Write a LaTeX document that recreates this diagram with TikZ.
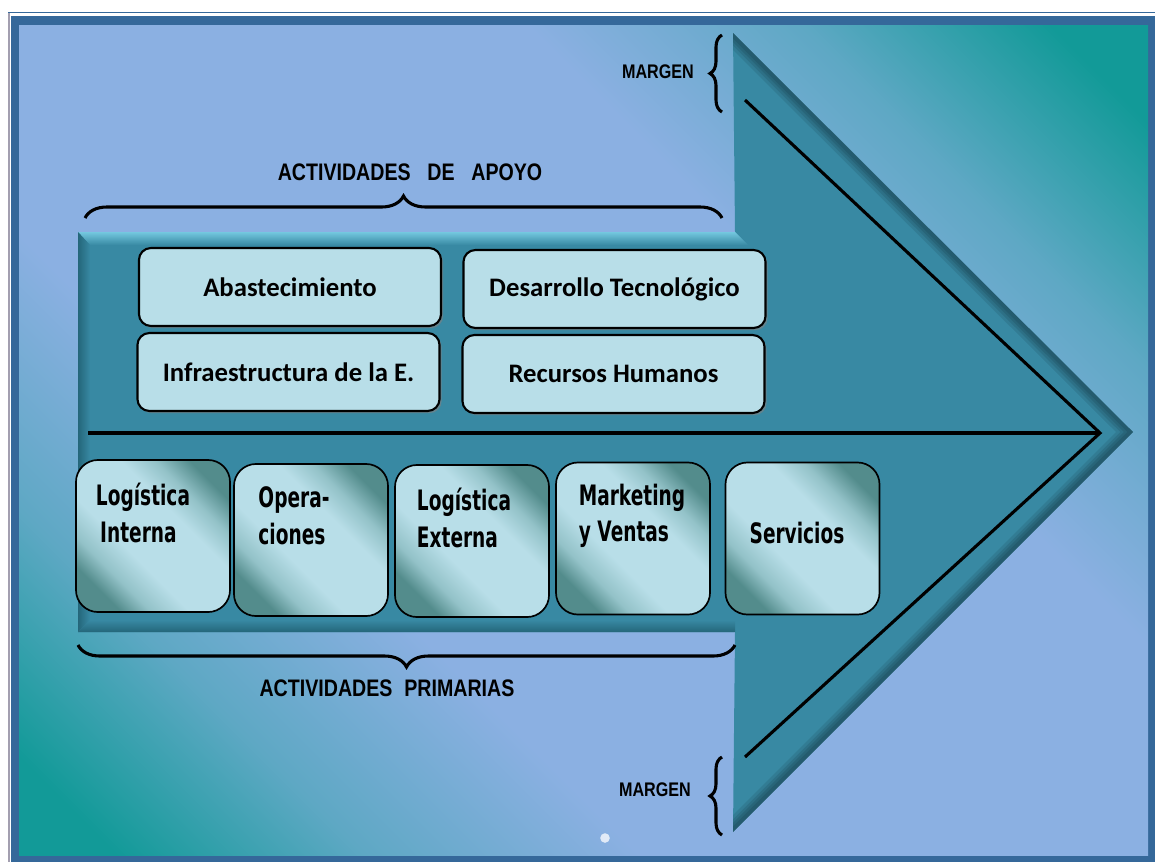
\documentclass[tikz,border=0pt]{standalone}
\usepackage{fontspec}
\setmainfont{Carlito}
\newfontfamily\narrowfont[FakeStretch=0.82]{Liberation Sans}
\newfontfamily\agencyfont[FakeStretch=0.66]{DejaVu Sans}
\usetikzlibrary{calc}
\usetikzlibrary{shapes,shadows,shadings,decorations.pathreplacing}
\definecolor{bglight}{HTML}{8BB0E2}
\definecolor{bgmid}{HTML}{5EA8C4}
\definecolor{bgteal}{HTML}{129A98}
\definecolor{framebl}{HTML}{35689A}
\definecolor{frameline}{HTML}{A39FB0}
\definecolor{arrowfill}{HTML}{3889A3}
\definecolor{arrowtop}{HTML}{74C8DF}
\definecolor{arrowdark}{HTML}{24667A}
\definecolor{boxlight}{HTML}{B8DEE8}
\definecolor{boxmid}{HTML}{93C2C8}
\definecolor{boxdark}{HTML}{538C8C}
\pgfdeclarehorizontalshading{backdrop}{100bp}{color(0bp)=(bgteal); color(18bp)=(bgteal); color(27bp)=(bgmid); color(37bp)=(bglight); color(63bp)=(bglight); color(73bp)=(bgmid); color(82bp)=(bgteal); color(100bp)=(bgteal)}
\pgfdeclarehorizontalshading{glassy}{100bp}{color(0bp)=(boxdark); color(25bp)=(boxdark); color(32bp)=(boxmid); color(41bp)=(boxlight); color(60bp)=(boxlight); color(68bp)=(boxmid); color(76bp)=(boxdark); color(100bp)=(boxdark)}
\tikzset{
  supportbox/.style={draw=black, line width=1.5pt, rounded corners=0.3cm, fill=boxlight,
    minimum width=7.55cm, minimum height=1.95cm,
    drop shadow={shadow xshift=1.5pt, shadow yshift=-1.5pt, opacity=0.6},
    font=\bfseries\fontsize{19}{22}\selectfont},
  primarybox/.style={draw=black, line width=1.2pt, rounded corners=0.55cm, shade, shading=glassy,
    shading angle=45, minimum width=3.85cm, minimum height=3.8cm},
  primarytext/.style={font=\agencyfont\bfseries\fontsize{20}{26}\selectfont, align=left},
  headtext/.style={font=\narrowfont\bfseries\fontsize{17}{20}\selectfont},
  margintext/.style={font=\narrowfont\bfseries\fontsize{14}{16}\selectfont},
  bigbrace/.style={decorate, decoration={brace, amplitude=0.55cm}, line width=2.2pt},
  smallbrace/.style={decorate, decoration={brace, amplitude=0.3cm}, line width=2.2pt},
  thinline/.style={line width=2.2pt},
  bevel/.style={black, line width=#1, opacity=0.09}
}
\newcommand{\supbox}[4]{\node[supportbox] (#1) at (#2,#3) {#4};}
\newcommand{\primbox}[6]{\node[primarybox] (#1) at (#2,#3) {}; \node[primarytext] (#1-t) at (#4,#5) {#6};}
\newcommand{\arrowpath}{(78,232) -- (735,232) -- (733,33) -- (1133,432) -- (733,832) -- (735,632) -- (78,632) -- cycle}

\begin{document}
\begin{tikzpicture}[x=0.025cm, y=-0.025cm]
        \useasboundingbox (0,0) rectangle (1155,862);
        % frame
        \fill[white] (0,0) rectangle (1155,862);
        \draw[framebl, line width=0.8pt] (8,12.5) -- (1155,12.5);
        \draw[frameline, line width=1.6pt] (9,13) -- (9,862);
        \fill[framebl] (11,16) rectangle (1155,862);
        \shade[shading=backdrop, shading angle=45] (19,25) rectangle (1148,855);
        \fill[white, opacity=0.75] (605,838) circle (0.12cm);
        % arrow
        \fill[arrowfill] \arrowpath;
        \begin{scope}
            \clip \arrowpath;
            \shade[top color=arrowtop, bottom color=arrowfill] (78,232) -- (735,232) -- (748,245) -- (90,245) -- cycle;
            \shade[left color=arrowdark, right color=arrowfill] (78,232) -- (90,245) -- (90,620) -- (78,632) -- cycle;
            \shade[top color=arrowfill, bottom color=arrowdark] (78,632) -- (90,620) -- (735,620) -- (735,632) -- cycle;
            \foreach \w in {0.6cm,0.45cm,0.32cm,0.2cm}
                \draw[bevel=\w] (733,33) -- (1133,432) -- (733,832);
        \end{scope}
        % lines
        \coordinate (mid) at (88,433);
        \coordinate (tip) at (1100,433);
        \coordinate (uend) at (745,100);
        \coordinate (lend) at (745,757);
        \draw[thinline] (mid) -- (tip);
        \draw[thinline] (uend) -- (tip) -- (lend);
        % support activities
        \supbox{abas}{290}{287}{Abastecimiento}
        \supbox{desa}{614.5}{289}{Desarrollo Tecnológico}
        \supbox{infr}{288.5}{372}{Infraestructura de la E.}
        \supbox{recu}{613.5}{374}{Recursos Humanos}
        % primary activities
        \primbox{li}{153}{536}{143}{513}{Logística\\\hspace{3pt}Interna}
        \primbox{op}{311}{540}{294}{516}{Opera-\\ciones}
        \primbox{le}{472}{541}{464}{518}{Logística\\Externa}
        \primbox{mv}{633}{538.5}{632}{516}{Marketing\\y Ventas}
        \primbox{se}{802.5}{538.5}{797}{533}{Servicios}
        % braces
        \coordinate (apoyo-l) at (85,218);
        \coordinate (apoyo-r) at (722,218);
        \draw[bigbrace] (apoyo-l) -- (apoyo-r);
        \node[headtext] (apoyo) at (410,172) {ACTIVIDADES\hspace{0.7em}DE\hspace{0.7em}APOYO};
        \coordinate (prim-r) at (735,645);
        \coordinate (prim-l) at (78,645);
        \draw[bigbrace] (prim-r) -- (prim-l);
        \node[headtext] (prim) at (387,688) {ACTIVIDADES\hspace{0.5em}PRIMARIAS};
        \coordinate (mtop-b) at (722,112);
        \coordinate (mtop-t) at (722,35);
        \draw[smallbrace] (mtop-b) -- (mtop-t);
        \node[margintext] (margen-top) at (658,72) {MARGEN};
        \coordinate (mbot-b) at (722,835);
        \coordinate (mbot-t) at (722,757);
        \draw[smallbrace] (mbot-b) -- (mbot-t);
        \node[margintext] (margen-bot) at (655,790) {MARGEN};
\end{tikzpicture}
\end{document}
